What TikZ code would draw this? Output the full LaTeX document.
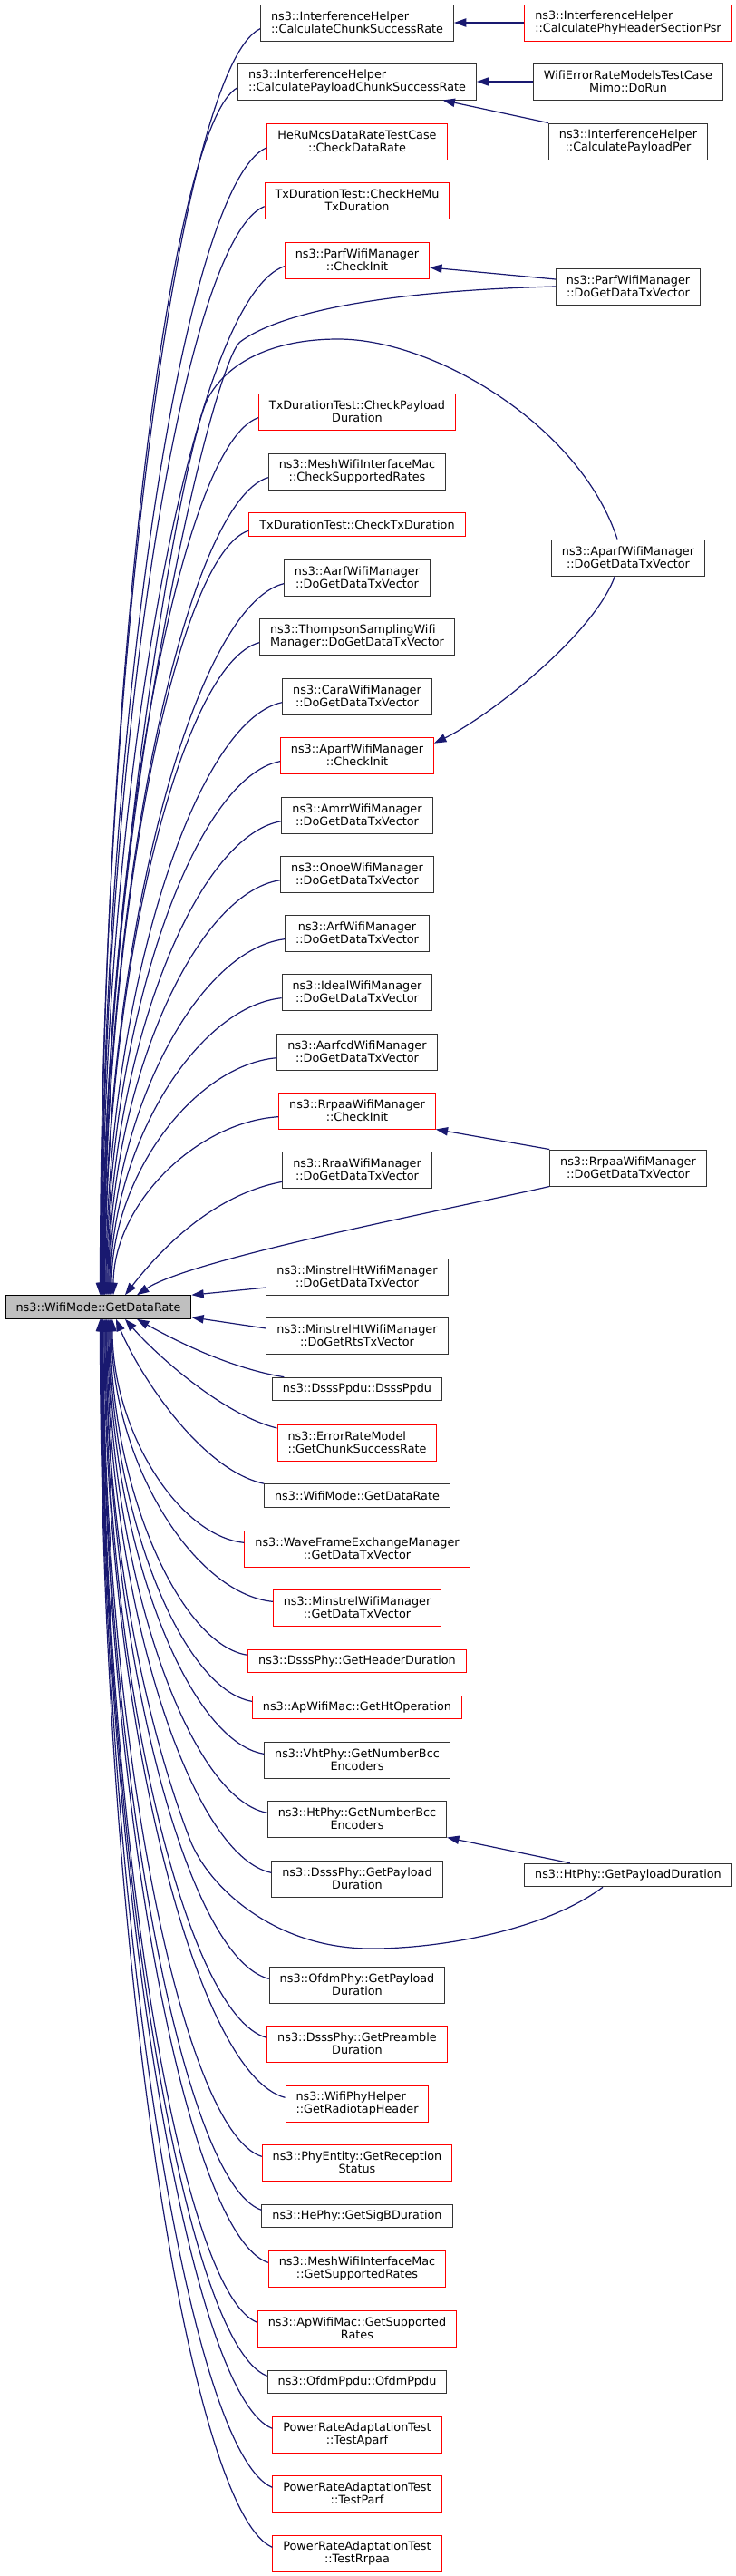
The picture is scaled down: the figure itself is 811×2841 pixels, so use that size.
\documentclass[tikz,border=0pt]{standalone}
\usepackage{fontspec}
\setmainfont{DejaVu Sans}
\usetikzlibrary{arrows.meta}
\definecolor{edgeblue}{HTML}{191970}
\definecolor{maingrey}{HTML}{BFBFBF}

\begin{document}
\begin{tikzpicture}[x=0.75pt, y=-0.75pt,
  func/.style={draw=black!80, fill=white, line width=0.75pt, inner xsep=8.6pt, inner ysep=2pt,
    minimum height=19.2pt, align=center, font=\fontsize{9.6}{10.5}\selectfont},
  func2/.style={func, minimum height=30pt},
  cut/.style={draw=red},
  call/.style={edgeblue, line width=0.9pt, -{Triangle[length=10pt,width=7pt]}}]

  \fill[white] (0,0) rectangle (811,2841);
  \useasboundingbox (0,0) rectangle (811,2841);

  % called function
  \node[func, fill=maingrey, draw=black] (main) at (108.5,1441.5) {ns3::WifiMode::GetDataRate};

  % direct callers
  \node[func2, align=left] (chunk) at (394,25) {ns3::InterferenceHelper\\::CalculateChunkSuccessRate};
  \node[func2, align=left] (pchunk) at (394,90) {ns3::InterferenceHelper\\::CalculatePayloadChunkSuccessRate};
  \node[func2, cut] (herumcs) at (394,156) {HeRuMcsDataRateTestCase\\::CheckDataRate};
  \node[func2, cut] (hemu) at (394,221) {TxDurationTest::CheckHeMu\\TxDuration};
  \node[func2, cut] (pcheck) at (394,287) {ns3::ParfWifiManager\\::CheckInit};
  \node[func2, cut] (txpay) at (394,454) {TxDurationTest::CheckPayload\\Duration};
  \node[func2] (meshcheck) at (394,520) {ns3::MeshWifiInterfaceMac\\::CheckSupportedRates};
  \node[func, cut] (txdur) at (394,578.5) {TxDurationTest::CheckTxDuration};
  \node[func2] (aarf) at (394,637) {ns3::AarfWifiManager\\::DoGetDataTxVector};
  \node[func2, align=left] (thompson) at (394,702) {ns3::ThompsonSamplingWifi\\Manager::DoGetDataTxVector};
  \node[func2] (cara) at (394,768) {ns3::CaraWifiManager\\::DoGetDataTxVector};
  \node[func2, cut] (acheck) at (394,833) {ns3::AparfWifiManager\\::CheckInit};
  \node[func2] (amrr) at (394,899) {ns3::AmrrWifiManager\\::DoGetDataTxVector};
  \node[func2] (onoe) at (394,964) {ns3::OnoeWifiManager\\::DoGetDataTxVector};
  \node[func2] (arf) at (394,1029) {ns3::ArfWifiManager\\::DoGetDataTxVector};
  \node[func2] (ideal) at (394,1094) {ns3::IdealWifiManager\\::DoGetDataTxVector};
  \node[func2] (aarfcd) at (394,1160) {ns3::AarfcdWifiManager\\::DoGetDataTxVector};
  \node[func2, cut] (rcheck) at (394,1225) {ns3::RrpaaWifiManager\\::CheckInit};
  \node[func2] (rraa) at (394,1290) {ns3::RraaWifiManager\\::DoGetDataTxVector};
  \node[func2] (mhtdata) at (394,1408) {ns3::MinstrelHtWifiManager\\::DoGetDataTxVector};
  \node[func2] (mhtrts) at (394,1473) {ns3::MinstrelHtWifiManager\\::DoGetRtsTxVector};
  \node[func] (dsssppdu) at (394,1532) {ns3::DsssPpdu::DsssPpdu};
  \node[func2, cut, align=left] (errmodel) at (394,1591) {ns3::ErrorRateModel\\::GetChunkSuccessRate};
  \node[func] (wmrate) at (394,1649.5) {ns3::WifiMode::GetDataRate};
  \node[func2, cut] (wave) at (394,1708) {ns3::WaveFrameExchangeManager\\::GetDataTxVector};
  \node[func2, cut] (minstrel) at (394,1773) {ns3::MinstrelWifiManager\\::GetDataTxVector};
  \node[func, cut] (dssshdr) at (394,1832) {ns3::DsssPhy::GetHeaderDuration};
  \node[func, cut] (apht) at (394,1883) {ns3::ApWifiMac::GetHtOperation};
  \node[func2] (vhtbcc) at (394,1941) {ns3::VhtPhy::GetNumberBcc\\Encoders};
  \node[func2] (htbcc) at (394,2006) {ns3::HtPhy::GetNumberBcc\\Encoders};
  \node[func2] (dssspay) at (394,2072) {ns3::DsssPhy::GetPayload\\Duration};
  \node[func2] (ofdmpay) at (394,2189) {ns3::OfdmPhy::GetPayload\\Duration};
  \node[func2, cut] (dssspre) at (394,2254) {ns3::DsssPhy::GetPreamble\\Duration};
  \node[func2, cut, align=left] (radiotap) at (394,2320) {ns3::WifiPhyHelper\\::GetRadiotapHeader};
  \node[func2, cut] (reception) at (394,2385) {ns3::PhyEntity::GetReception\\Status};
  \node[func] (sigb) at (394,2444) {ns3::HePhy::GetSigBDuration};
  \node[func2, cut] (meshsupp) at (394,2502) {ns3::MeshWifiInterfaceMac\\::GetSupportedRates};
  \node[func2, cut] (apsupp) at (394,2568) {ns3::ApWifiMac::GetSupported\\Rates};
  \node[func] (ofdmppdu) at (394,2627) {ns3::OfdmPpdu::OfdmPpdu};
  \node[func2, cut] (taparf) at (394,2685) {PowerRateAdaptationTest\\::TestAparf};
  \node[func2, cut] (tparf) at (394,2750) {PowerRateAdaptationTest\\::TestParf};
  \node[func2, cut] (trrpaa) at (394,2816) {PowerRateAdaptationTest\\::TestRrpaa};

  % callers of callers
  \node[func2, cut, align=left] (phsr) at (693,25) {ns3::InterferenceHelper\\::CalculatePhyHeaderSectionPsr};
  \node[func2] (mimo) at (693,90) {WifiErrorRateModelsTestCase\\Mimo::DoRun};
  \node[func2] (payper) at (693,156) {ns3::InterferenceHelper\\::CalculatePayloadPer};
  \node[func2] (parfv) at (693,316) {ns3::ParfWifiManager\\::DoGetDataTxVector};
  \node[func2] (aparfv) at (693,615) {ns3::AparfWifiManager\\::DoGetDataTxVector};
  \node[func2] (rrpaav) at (693,1288) {ns3::RrpaaWifiManager\\::DoGetDataTxVector};
  \node[func] (htpd) at (693,2068) {ns3::HtPhy::GetPayloadDuration};

  % edges into the top of the called function
  \draw[call] ([yshift=-5pt]chunk.west) .. controls +(-88,42) and +(0,-699) .. ([xshift=1.5pt]main.north);
  \draw[call] ([yshift=-5pt]pchunk.west) .. controls +(-75,40) and +(0,-666) .. ([xshift=1.9pt]main.north);
  \draw[call] ([yshift=-5pt]herumcs.west) .. controls +(-91,38) and +(0,-633) .. ([xshift=2.25pt]main.north);
  \draw[call] ([yshift=-5pt]hemu.west) .. controls +(-89,36) and +(0,-600) .. ([xshift=2.6pt]main.north);
  \draw[call] ([yshift=-5pt]pcheck.west) .. controls +(-101,34) and +(0,-568) .. ([xshift=3pt]main.north);
  \draw[call] ([yshift=-5pt]txpay.west) .. controls +(-85,29) and +(0,-484) .. ([xshift=4.1pt]main.north);
  \draw[call] ([yshift=-5pt]meshcheck.west) .. controls +(-90,27) and +(0,-451) .. ([xshift=4.5pt]main.north);
  \draw[call] ([yshift=-5pt]txdur.west) .. controls +(-79,25) and +(0,-422) .. ([xshift=4.9pt]main.north);
  \draw[call] ([yshift=-5pt]aarf.west) .. controls +(-98,24) and +(0,-393) .. ([xshift=5.25pt]main.north);
  \draw[call] ([yshift=-5pt]thompson.west) .. controls +(-85,22) and +(0,-360) .. ([xshift=5.6pt]main.north);
  \draw[call] ([yshift=-5pt]cara.west) .. controls +(-97,20) and +(0,-327) .. ([xshift=6.4pt]main.north);
  \draw[call] ([yshift=-5pt]acheck.west) .. controls +(-96,18) and +(0,-295) .. ([xshift=7.1pt]main.north);
  \draw[call] ([yshift=-5pt]amrr.west) .. controls +(-96,16) and +(0,-262) .. ([xshift=7.9pt]main.north);
  \draw[call] ([yshift=-5pt]onoe.west) .. controls +(-95,14) and +(0,-229) .. ([xshift=8.6pt]main.north);
  \draw[call] ([yshift=-5pt]arf.west) .. controls +(-97,12) and +(0,-197) .. ([xshift=9.4pt]main.north);
  \draw[call] ([yshift=-5pt]ideal.west) .. controls +(-94,10) and +(0,-164) .. ([xshift=10.1pt]main.north);
  \draw[call] ([yshift=-5pt]aarfcd.west) .. controls +(-91,8) and +(0,-131) .. ([xshift=10.9pt]main.north);
  \draw[call] ([yshift=-5pt]rcheck.west) .. controls +(-92,6) and +(0,-99) .. ([xshift=12.4pt]main.north);
  \draw[call] ([yshift=-10pt]rraa.west) .. controls +(-80,15) and +(35,-45) .. ([xshift=22.1pt]main.north);
  \draw[call] ([yshift=-9pt]mhtdata.west) -- (main.north east);

  % edges into the bottom of the called function
  \draw[call] ([yshift=6pt]mhtrts.west) -- ([yshift=1.5pt]main.south east);
  \draw[call] ([xshift=10pt]dsssppdu.north west) .. controls +(-60,-10) and +(45,25) .. ([xshift=31.9pt]main.south);
  \draw[call] ([yshift=12pt]errmodel.west) .. controls +(-60,-15) and +(35,40) .. ([xshift=22.1pt]main.south);
  \draw[call] (wmrate.north west) .. controls +(-70,-15) and +(25,60) .. ([xshift=14.6pt]main.south);
  \draw[call] ([yshift=5pt]wave.west) .. controls +(-72,-7) and +(0,124) .. ([xshift=11.6pt]main.south);
  \draw[call] ([yshift=5pt]minstrel.west) .. controls +(-88,-9) and +(0,156) .. ([xshift=10.9pt]main.south);
  \draw[call] ([yshift=5pt]dssshdr.west) .. controls +(-75,-11) and +(0,186) .. ([xshift=10.1pt]main.south);
  \draw[call] ([yshift=5pt]apht.west) .. controls +(-78,-13) and +(0,211) .. ([xshift=9.4pt]main.south);
  \draw[call] ([yshift=5pt]vhtbcc.west) .. controls +(-86,-14) and +(0,240) .. ([xshift=8.6pt]main.south);
  \draw[call] ([yshift=5pt]htbcc.west) .. controls +(-88,-16) and +(0,273) .. ([xshift=7.9pt]main.south);
  \draw[call] ([yshift=5pt]dssspay.west) .. controls +(-90,-18) and +(0,306) .. ([xshift=7.1pt]main.south);
  \draw[call] ([yshift=5pt]ofdmpay.west) .. controls +(-90,-22) and +(0,364) .. ([xshift=6.4pt]main.south);
  \draw[call] ([yshift=5pt]dssspre.west) .. controls +(-89,-24) and +(0,397) .. ([xshift=5.6pt]main.south);
  \draw[call] ([yshift=5pt]radiotap.west) .. controls +(-100,-26) and +(0,430) .. ([xshift=4.9pt]main.south);
  \draw[call] ([yshift=5pt]reception.west) .. controls +(-88,-28) and +(0,462) .. ([xshift=4.1pt]main.south);
  \draw[call] ([yshift=5pt]sigb.west) .. controls +(-87,-29) and +(0,492) .. ([xshift=3.75pt]main.south);
  \draw[call] ([yshift=5pt]meshsupp.west) .. controls +(-91,-31) and +(0,521) .. ([xshift=3.4pt]main.south);
  \draw[call] ([yshift=5pt]apsupp.west) .. controls +(-86,-33) and +(0,554) .. ([xshift=3pt]main.south);
  \draw[call] ([yshift=5pt]ofdmppdu.west) .. controls +(-92,-35) and +(0,583) .. ([xshift=2.6pt]main.south);
  \draw[call] ([yshift=5pt]taparf.west) .. controls +(-93,-37) and +(0,612) .. ([xshift=2.25pt]main.south);
  \draw[call] ([yshift=5pt]tparf.west) .. controls +(-94,-39) and +(0,645) .. ([xshift=1.9pt]main.south);
  \draw[call] ([yshift=5pt]trrpaa.west) .. controls +(-94,-41) and +(0,678) .. ([xshift=1.5pt]main.south);

  % second level callers
  \draw[call] (phsr) -- (chunk);
  \draw[call] (mimo) -- (pchunk);
  \draw[call] (payper.north west) -- ([xshift=-28pt]pchunk.south east);
  \draw[call] ([yshift=6pt]parfv.west) -- ([yshift=-6pt]pcheck.east);
  \draw[call] (parfv.west) .. controls +(-200,5) and (305,347) .. (265,377)
    .. controls (235,400) and (113,900) .. ([xshift=3.4pt]main.north);
  \draw[call] ([xshift=-9pt]aparfv.north) .. controls (640,470) and (480,374) .. (373,374)
    .. controls (300,374) and (250,400) .. (229,440)
    .. controls (200,500) and (113.5,1000) .. ([xshift=3.75pt]main.north);
  \draw[call] ([xshift=-11pt]aparfv.south) .. controls (655,700) and (540,790) .. ([yshift=10pt]acheck.east);
  \draw[call] (rrpaav.north west) -- (rcheck.south east);
  \draw[call] (rrpaav.south west) .. controls +(-110,25) and +(60,-40) .. ([xshift=31.9pt]main.north);
  \draw[call] ([xshift=38pt]htpd.north west) -- (htbcc.south east);
  \draw[call] ([xshift=-21pt]htpd.south) .. controls (600,2130) and (480,2150) .. (405,2149)
    .. controls (300,2147) and (230,2080) .. (210,2030)
    .. controls (160,1900) and (117,1700) .. ([xshift=6.4pt]main.south);

\end{tikzpicture}
\end{document}
